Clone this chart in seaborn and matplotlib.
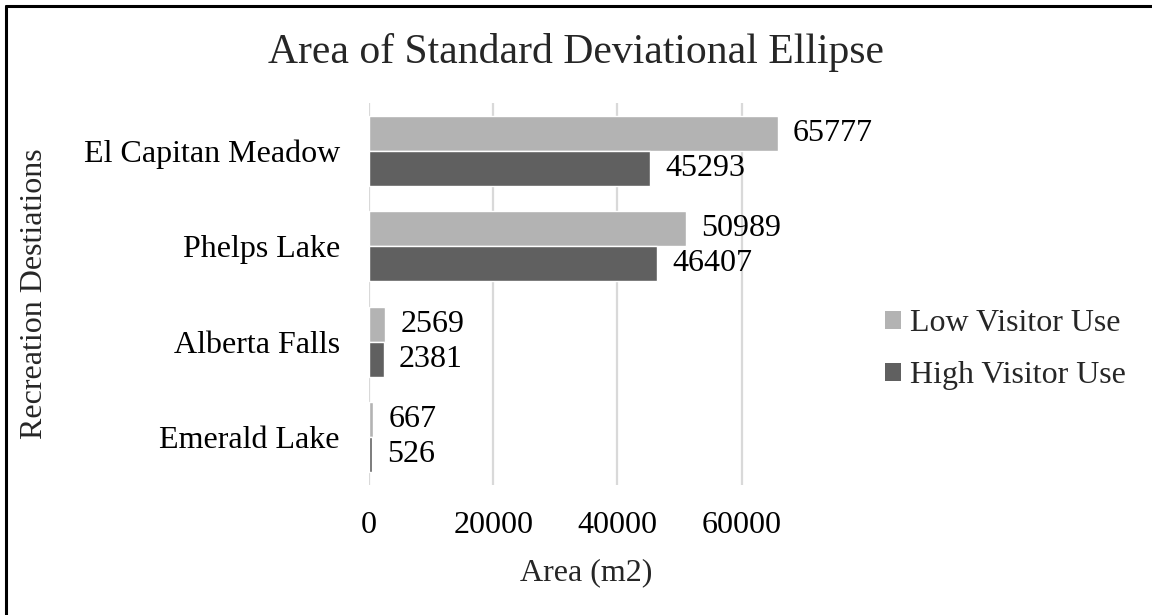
import matplotlib
matplotlib.use("Agg")
import matplotlib.pyplot as plt
from matplotlib.lines import Line2D
from matplotlib.patches import Patch
import seaborn as sns
import pandas as pd

destinations = ["El Capitan Meadow", "Phelps Lake", "Alberta Falls", "Emerald Lake"]
low_use = [65777, 50989, 2569, 667]
high_use = [45293, 46407, 2381, 526]
series = ["Low Visitor Use", "High Visitor Use"]
x_ticks = [0, 20000, 40000, 60000]

df = pd.DataFrame({
    "Destination": destinations * 2,
    "Area": low_use + high_use,
    "Use": [series[0]] * len(destinations) + [series[1]] * len(destinations),
})

sns.set_theme(style="white")
plt.rcParams["font.family"] = ["Liberation Serif", "DejaVu Serif"]

colors = {series[0]: "#b3b3b3", series[1]: "#606060"}

fig = plt.figure(figsize=(11.52, 6.15), dpi=100)
ax = fig.add_axes([0.3203, 0.2114, 0.3774, 0.6211])

sns.barplot(data=df, y="Destination", x="Area", hue="Use", order=destinations,
            hue_order=series, palette=colors, orient="h", width=0.733,
            dodge=True, saturation=1, ax=ax, legend=False, gap=0)

for container in ax.containers:
    ax.bar_label(container, fmt="%d", padding=11, fontsize=23, color="black")

ax.set_xlim(0, 70000)
ax.set_xticks(x_ticks)
ax.set_xticklabels([str(t) for t in x_ticks])
ax.xaxis.grid(True, color="#d9d9d9", linewidth=1.6)
ax.set_axisbelow(True)
for s in ax.spines.values():
    s.set_visible(False)
ax.tick_params(axis="both", length=0, labelsize=23, colors="black")
ax.tick_params(axis="y", pad=21)
ax.tick_params(axis="x", pad=19)

ax.set_xlabel("Area (m2)", fontsize=23, labelpad=13)
ax.set_ylabel("Recreation Destiations", fontsize=23, labelpad=0)
ax.yaxis.set_label_coords(-0.735, 0.5)

fig.text(0.5, 0.915, "Area of Standard Deviational Ellipse", ha="center",
         va="center", fontsize=30)

handles = [Patch(facecolor=colors[s], edgecolor="none") for s in series]
fig.legend(handles, series, loc="center left", bbox_to_anchor=(0.743, 0.4315),
           frameon=False, fontsize=23, handlelength=0.5, handleheight=0.5,
           handletextpad=0.28, labelspacing=0.71)

# frame lines along top and left edges
fig.add_artist(Line2D([0.0055, 1.0], [0.990, 0.990], color="black", lw=2.2,
                      transform=fig.transFigure))
fig.add_artist(Line2D([0.0055, 0.0055], [0.0, 0.990], color="black", lw=2.2,
                      transform=fig.transFigure))

fig.savefig("out.png", dpi=100)
